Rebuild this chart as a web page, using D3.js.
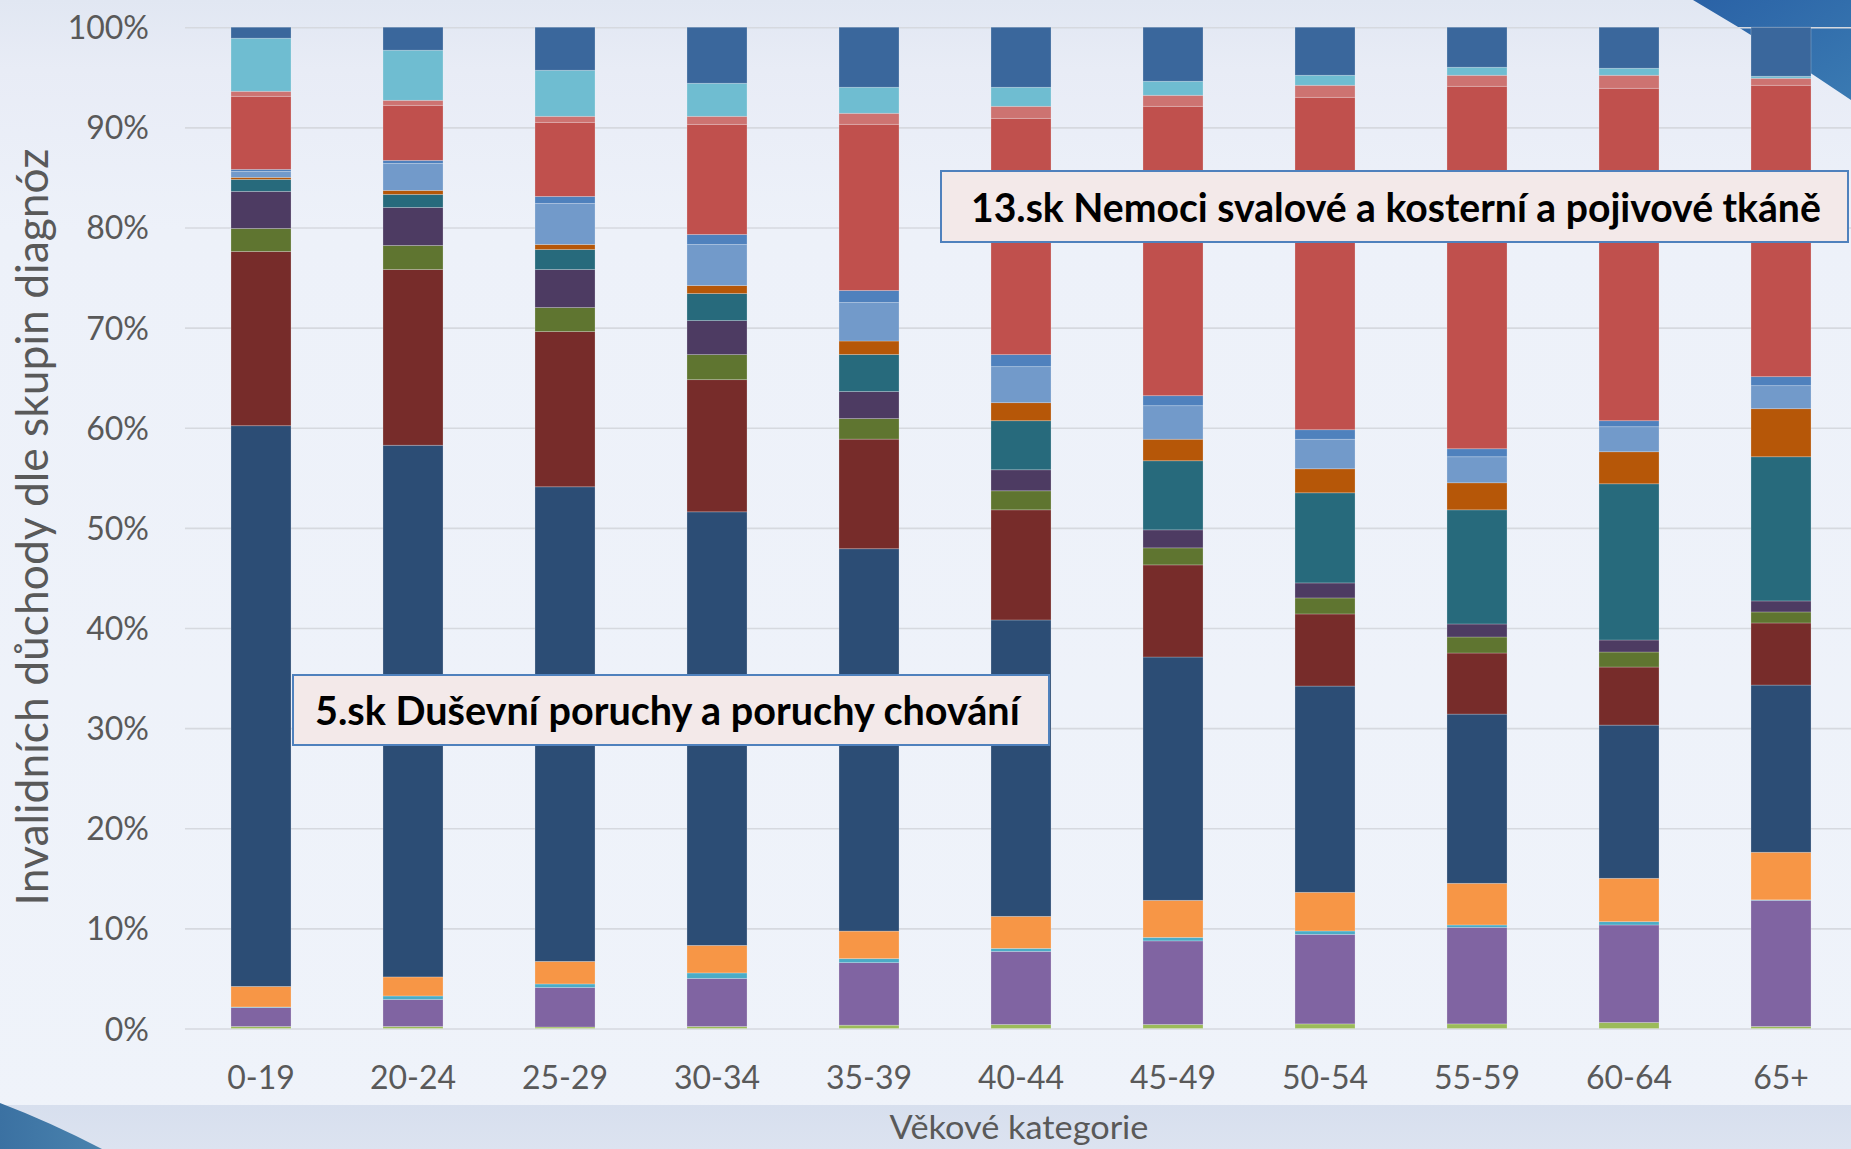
<!DOCTYPE html>
<html>
<head>
<meta charset="utf-8">
<script src="https://cdn.jsdelivr.net/npm/d3@7"></script>
<style>
  html, body { margin: 0; padding: 0; background: #EEF2FA; }
  svg { display: block; }
  text { font-family: Lato, "Open Sans", "DejaVu Sans", sans-serif; }
</style>
</head>
<body>
<svg id="chart" width="1851" height="1149"></svg>
<script>
// ---------- data ----------
const categories = ["0-19","20-24","25-29","30-34","35-39","40-44","45-49","50-54","55-59","60-64","65+"];
const seriesKeys = ["s01","s02","s03","s04","s05","s06","s07","s08","s09","s10","s11","s12","s13","s14","s15","s16"];
const seriesColors = ["#9BBB59","#8064A2","#4BACC6","#F79646","#2C4D75","#772C2A","#5F7530","#4D3B62",
                      "#276A7C","#B65708","#729ACA","#4F81BD","#C0504D","#CD7371","#6FBDD1","#3A679C"];
const s01 = [0.2, 0.2, 0.15, 0.2, 0.33, 0.4, 0.4, 0.46, 0.46, 0.6, 0.2];
const s02 = [1.9, 2.7, 3.95, 4.8, 6.25, 7.3, 8.35, 8.94, 9.64, 9.74, 12.6];
const s03 = [0.05, 0.35, 0.35, 0.55, 0.4, 0.3, 0.35, 0.34, 0.24, 0.33, 0.05];
const s04 = [2.05, 1.9, 2.25, 2.75, 2.75, 3.2, 3.7, 3.86, 4.16, 4.33, 4.75];
const s05 = [56.0, 53.1, 47.4, 43.3, 38.2, 29.6, 24.3, 20.6, 16.9, 15.3, 16.7];
const s06 = [17.4, 17.55, 15.5, 13.2, 10.95, 11.0, 9.2, 7.2, 6.1, 5.8, 6.2];
const s07 = [2.3, 2.4, 2.4, 2.5, 2.05, 1.9, 1.7, 1.6, 1.6, 1.5, 1.1];
const s08 = [3.7, 3.8, 3.8, 3.4, 2.7, 2.1, 1.8, 1.5, 1.3, 1.2, 1.1];
const s09 = [1.2, 1.3, 2.0, 2.7, 3.7, 4.9, 6.9, 9.0, 11.4, 15.6, 14.4];
const s10 = [0.2, 0.4, 0.5, 0.8, 1.35, 1.8, 2.15, 2.4, 2.7, 3.2, 4.8];
const s11 = [0.6, 2.7, 4.1, 4.1, 3.85, 3.6, 3.35, 2.95, 2.6, 2.5, 2.3];
const s12 = [0.2, 0.3, 0.7, 1.0, 1.2, 1.2, 1.0, 0.95, 0.8, 0.6, 0.9];
const s13 = [7.3, 5.5, 7.4, 11.0, 16.6, 23.6, 28.9, 33.2, 36.2, 33.2, 29.1];
const s14 = [0.5, 0.5, 0.6, 0.8, 1.1, 1.2, 1.1, 1.2, 1.1, 1.3, 0.7];
const s15 = [5.3, 5.0, 4.6, 3.3, 2.6, 1.9, 1.4, 1.0, 0.8, 0.7, 0.2];
const s16 = [1.1, 2.3, 4.3, 5.6, 6.0, 6.0, 5.4, 4.8, 4.0, 4.1, 4.9];
const seriesValues = [s01,s02,s03,s04,s05,s06,s07,s08,s09,s10,s11,s12,s13,s14,s15,s16];

const yTitle = "Invalidních důchody dle skupin diagnóz";
const xTitle = "Věkové kategorie";
const note13 = "13.sk Nemoci svalové a kosterní a pojivové tkáně";
const note5 = "5.sk Duševní poruchy a poruchy chování";

// ---------- table ----------
const table = categories.map((c, i) => {
  const row = { cat: c };
  seriesKeys.forEach((k, j) => row[k] = seriesValues[j][i]);
  return row;
});

const W = 1851, H = 1149;
const svg = d3.select("#chart");
const defs = svg.append("defs");

// background
const bg = defs.append("linearGradient").attr("id","bg").attr("x1",0).attr("y1",0).attr("x2",0).attr("y2",1);
bg.append("stop").attr("offset","0").attr("stop-color","#E1E7F2");
bg.append("stop").attr("offset","0.06").attr("stop-color","#E8ECF6");
bg.append("stop").attr("offset","0.2").attr("stop-color","#EDF1F9");
bg.append("stop").attr("offset","1").attr("stop-color","#EFF3FA");
svg.append("rect").attr("width",W).attr("height",H).attr("fill","url(#bg)");
const bandG = defs.append("linearGradient").attr("id","band").attr("x1",0).attr("y1",0).attr("x2",0).attr("y2",1);
bandG.append("stop").attr("offset","0").attr("stop-color","#D7DFEE");
bandG.append("stop").attr("offset","1").attr("stop-color","#DCE3F0");
svg.append("rect").attr("x",0).attr("y",1105).attr("width",W).attr("height",H-1105).attr("fill","url(#band)");

// decorations
const blueG = defs.append("linearGradient").attr("id","blueG").attr("x1",0).attr("y1",0).attr("x2",1).attr("y2",1);
blueG.append("stop").attr("offset","0").attr("stop-color","#2A62A6");
blueG.append("stop").attr("offset","1").attr("stop-color","#3A7AB2");
svg.append("path").attr("d","M1693,0 L1851,0 L1851,100 Q1770,45 1693,0 Z").attr("fill","url(#blueG)");
const blueL = defs.append("linearGradient").attr("id","blueL").attr("x1",0).attr("y1",0).attr("x2",1).attr("y2",0);
blueL.append("stop").attr("offset","0").attr("stop-color","#3B71A2");
blueL.append("stop").attr("offset","1").attr("stop-color","#4A83AE");
svg.append("path").attr("d","M0,1103 Q50,1122 102,1149 L0,1149 Z").attr("fill","url(#blueL)");

// ---------- scales ----------
const x = d3.scaleBand().domain(categories).range([185, 1857]).paddingInner(0.605).paddingOuter(0.3025);
const y = d3.scaleLinear().domain([0, 1]).range([1028.5, 27.2]);

// gridlines
const grid = svg.append("g").attr("transform","translate(185,0)")
  .call(d3.axisLeft(y).ticks(10).tickSize(-(W - 185)).tickFormat(""));
grid.select(".domain").remove();
grid.selectAll("line").attr("stroke","#D6D9DF").attr("stroke-width",1.6);

// stacked bars
const stack = d3.stack().keys(seriesKeys).offset(d3.stackOffsetExpand);
const layers = stack(table);
svg.append("g").selectAll("g").data(layers).join("g")
  .attr("fill", (d, i) => seriesColors[i])
  .selectAll("rect").data(d => d).join("rect")
  .attr("x", d => x(d.data.cat))
  .attr("width", x.bandwidth())
  .attr("y", d => y(d[1]))
  .attr("height", d => Math.max(0, y(d[0]) - y(d[1])))
  .attr("stroke","rgba(255,255,255,0.28)")
  .attr("stroke-width",0.8);

// y axis labels
const yAxis = svg.append("g").attr("transform","translate(185,0)")
  .call(d3.axisLeft(y).ticks(10).tickFormat(d3.format(".0%")).tickSize(0).tickPadding(36));
yAxis.select(".domain").remove();
yAxis.selectAll("text").attr("font-size",32).attr("fill","#595959")
  .style("font-family","Lato, 'Open Sans', sans-serif").attr("dy","0.36em");

// x axis labels
const xAxis = svg.append("g").attr("transform","translate(0,1028.5)")
  .call(d3.axisBottom(x).tickSize(0).tickPadding(0));
xAxis.select(".domain").remove();
xAxis.selectAll("text").attr("font-size",32).attr("fill","#595959").attr("dy",null).attr("y",60)
  .style("font-family","Lato, 'Open Sans', sans-serif");

// helper: fit a text horizontally to a target width (condensed like the original font)
function fitted(parent, label, size, weight, color, anchor) {
  return parent.append("text").attr("font-size", size).attr("font-weight", weight)
    .attr("fill", color).attr("text-anchor", anchor).text(label);
}
function place(t, tx, ty, targetW, rot) {
  const natural = t.node().getComputedTextLength();
  const k = targetW / natural;
  t.attr("transform", `translate(${tx},${ty})` + (rot ? ` rotate(${rot})` : "") + ` scale(${k},1)`);
}

// axis titles
place(fitted(svg, yTitle, 45, "normal", "#595959", "middle"), 48, 527, 757, -90);
place(fitted(svg, xTitle, 33, "normal", "#595959", "middle"), 1019, 1139, 259, 0);

// annotations
function note(x0, y0, w, h, tx, tw, label) {
  svg.append("rect").attr("x",x0).attr("y",y0).attr("width",w).attr("height",h)
    .attr("fill","#F3E9E9").attr("stroke","#4F81BD").attr("stroke-width",2);
  const t = fitted(svg, label, 41, "bold", "#000", "start");
  place(t, tx, y0 + h/2 + 15, tw, 0);
}
note(941, 171, 907, 71, 971, 850, note13);
note(293, 675, 756, 70, 315, 705, note5);
</script>
</body>
</html>
